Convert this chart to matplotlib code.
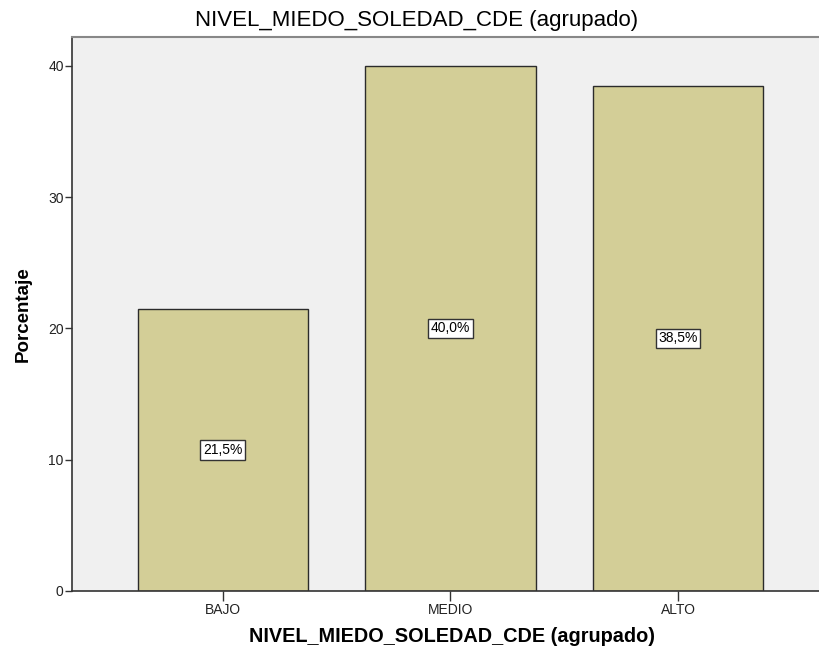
import matplotlib
matplotlib.use("Agg")
import matplotlib.pyplot as plt

categories = ["BAJO", "MEDIO", "ALTO"]
values = [21.5, 40.0, 38.5]
labels = ["21,5%", "40,0%", "38,5%"]
yticks = [0, 10, 20, 30, 40]

plt.rcParams['font.family'] = ['Liberation Sans', 'DejaVu Sans']

fig = plt.figure(figsize=(8.2, 6.54), dpi=100)
ax = fig.add_axes([72/820, 63/654, 1 - 72/820 + 0.01, (591-37)/654])
ax.set_facecolor("#F0F0F0")

x = list(range(len(categories)))
ax.bar(x, values, width=0.75, color="#D3CE97", edgecolor="#2b2b2b", linewidth=1.0, zorder=2)
for xi, v, lab in zip(x, values, labels):
    ax.text(xi, v / 2, lab, ha="center", va="center", fontsize=10, color="black", zorder=3,
            bbox=dict(boxstyle="square,pad=0.2", facecolor="white", edgecolor="#333333", linewidth=1.0))

ax.set_xlim(-0.663, 2.66)
ax.set_ylim(0, 42.2)
ax.set_xticks(x)
ax.set_xticklabels(categories, fontsize=10, color="#222222")
ax.set_yticks(yticks)
ax.set_yticklabels([str(t) for t in yticks], fontsize=10, color="#222222")
ax.tick_params(axis="y", direction="out", length=5, width=1, color="#333333", pad=1)
ax.tick_params(axis="x", direction="out", length=7, width=1, color="#333333", pad=2)

for s in ["left", "bottom"]:
    ax.spines[s].set_color("#333333")
    ax.spines[s].set_linewidth(1.2)
ax.spines["top"].set_color("#888888")
ax.spines["top"].set_linewidth(1.5)
ax.spines["right"].set_visible(False)

fig.text(417/820, 1 - 20.5/654, "NIVEL_MIEDO_SOLEDAD_CDE (agrupado)", fontsize=16,
         color="black", ha="center", va="center")
fig.text(452/820, 1 - 637/654, "NIVEL_MIEDO_SOLEDAD_CDE (agrupado)", fontsize=14.3,
         fontweight="bold", color="black", ha="center", va="center")
ax.set_ylabel("Porcentaje", fontsize=13.5, fontweight="bold", labelpad=12)

fig.savefig("out.png", dpi=100)
